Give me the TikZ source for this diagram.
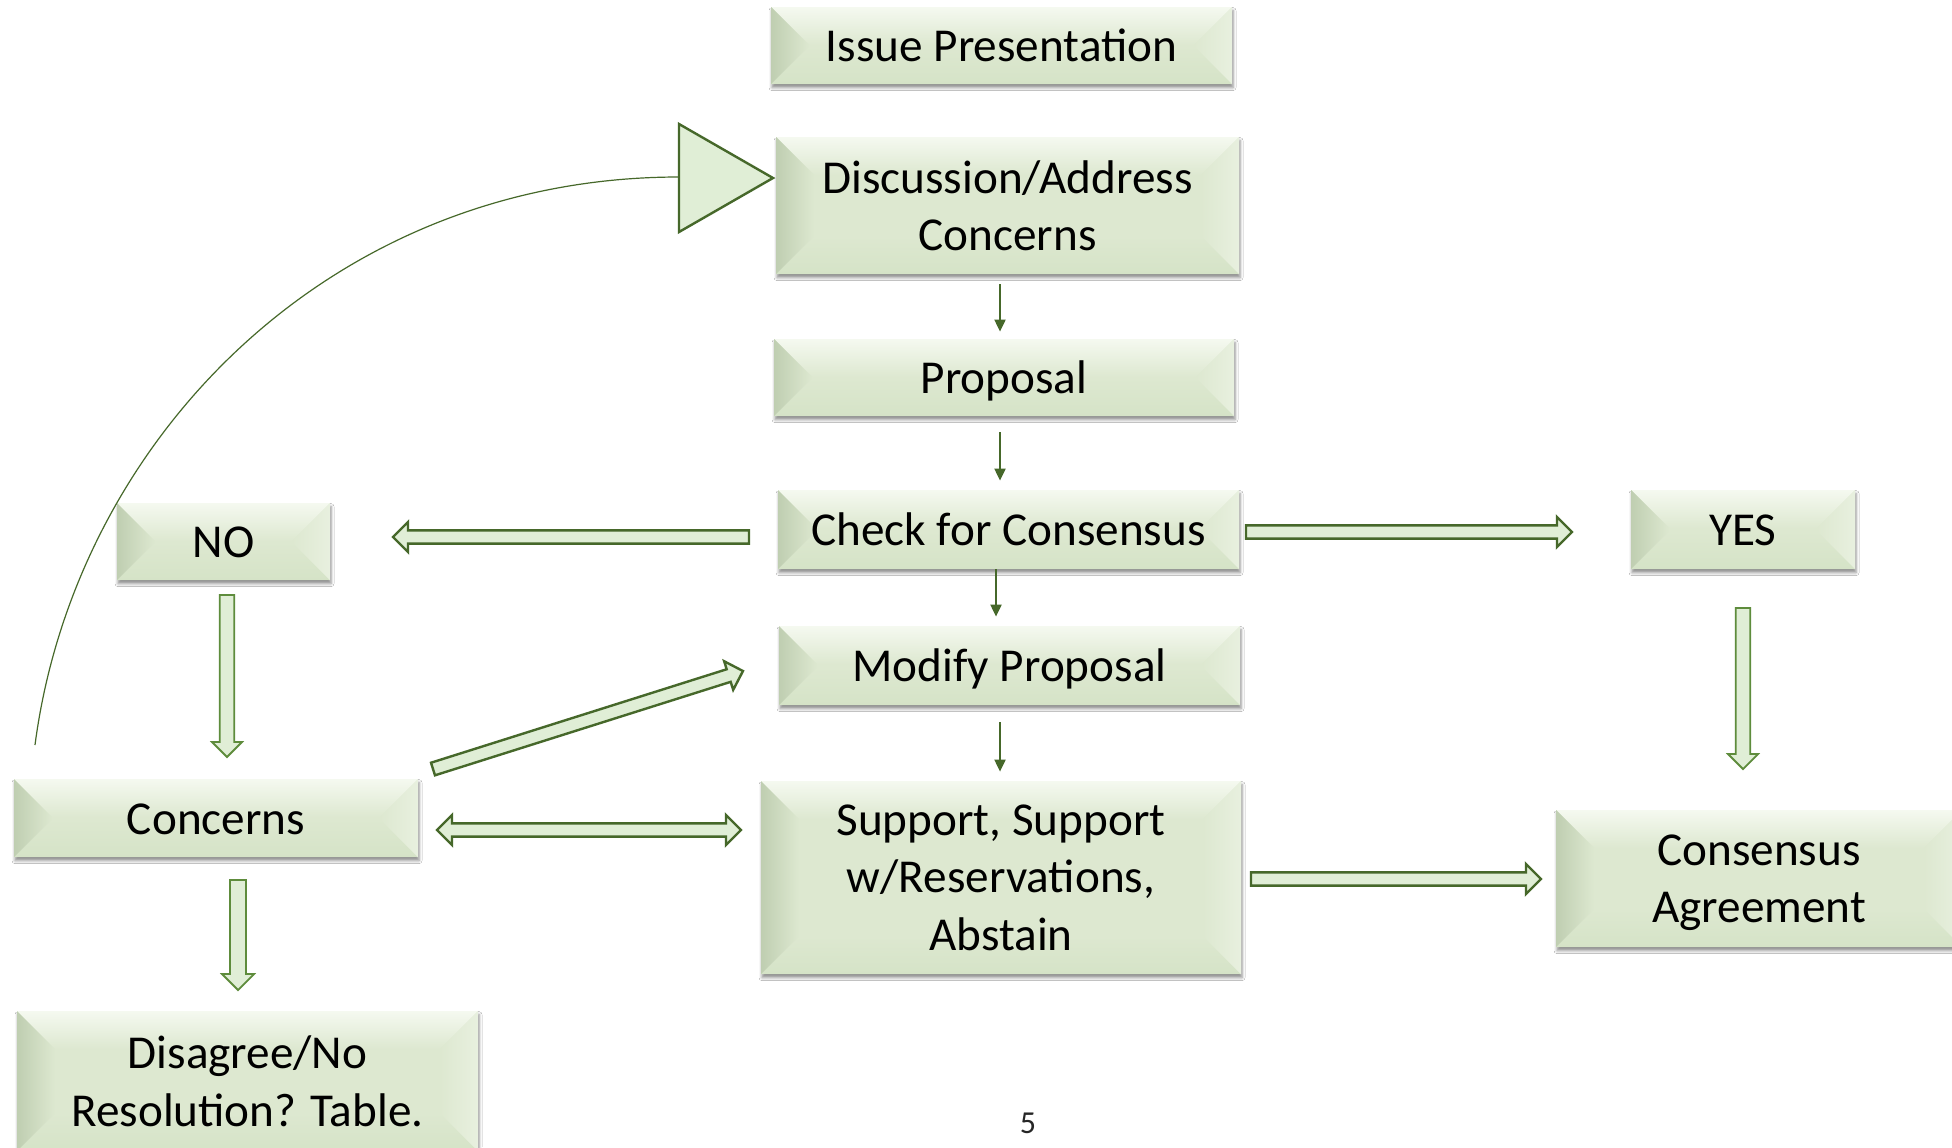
\documentclass[tikz,border=0pt]{standalone}
\usepackage{fontspec}
\setmainfont{Carlito}
\usetikzlibrary{calc,arrows.meta,shadows.blur}
\definecolor{face}{HTML}{DDE8D0}
\definecolor{bvleft}{HTML}{BFCEB1}
\definecolor{bvtop}{HTML}{F5F9F0}
\definecolor{bvright}{HTML}{E8F0DF}
\definecolor{bvbot}{HTML}{D5E3C7}
\definecolor{dkgreen}{HTML}{46682A}
\definecolor{mdgreen}{HTML}{5E8C3C}
\definecolor{arrfill}{HTML}{E0EED6}
\newcommand\bv{19pt}
\newcommand\barrow[6]{%
  \draw[#1] let \p1=(#2), \p2=(#3), \n1={atan2(\y2-\y1,\x2-\x1)}, \n2={veclen(\x2-\x1,\y2-\y1)} in
  [shift={(\p1)}, rotate=\n1]
  (0pt,-#4) -- ({\n2-#6},-#4) -- ({\n2-#6},-#5) -- ({\n2+0pt},0pt) -- ({\n2-#6},#5) -- ({\n2-#6},#4) -- (0pt,#4) -- cycle;}
\newcommand\dbarrow[6]{%
  \draw[#1] let \p1=(#2), \p2=(#3), \n1={atan2(\y2-\y1,\x2-\x1)}, \n2={veclen(\x2-\x1,\y2-\y1)} in
  [shift={(\p1)}, rotate=\n1]
  (0pt,0pt) -- (#6,#5) -- (#6,#4) -- ({\n2-#6},#4) -- ({\n2-#6},#5) -- ({\n2+0pt},0pt) -- ({\n2-#6},-#5) -- ({\n2-#6},-#4) -- (#6,-#4) -- (#6,-#5) -- cycle;}
\tikzset{
  bevelbox/.style={fill=face, inner sep=0pt, text depth=0pt,
    font=\fontsize{23.6pt}{28.6pt}\selectfont,
    blur shadow={shadow xshift=0.5pt, shadow yshift=-1.8pt, shadow blur radius=1.5pt, shadow opacity=45},
    path picture={
      \coordinate (q1) at (path picture bounding box.north west);
      \coordinate (q2) at (path picture bounding box.north east);
      \coordinate (q3) at (path picture bounding box.south east);
      \coordinate (q4) at (path picture bounding box.south west);
      \shade[top color=bvtop, bottom color=face] (q1) -- (q2) -- ([shift={(-\bv,-\bv)}]q2) -- ([shift={(\bv,-\bv)}]q1) -- cycle;
      \shade[bottom color=bvbot, top color=face] (q4) -- (q3) -- ([shift={(-\bv,\bv)}]q3) -- ([shift={(\bv,\bv)}]q4) -- cycle;
      \shade[left color=bvleft, right color=face] (q1) -- (q4) -- ([shift={(\bv,\bv)}]q4) -- ([shift={(\bv,-\bv)}]q1) -- cycle;
      \shade[right color=bvright, left color=face] (q2) -- (q3) -- ([shift={(-\bv,\bv)}]q3) -- ([shift={(-\bv,-\bv)}]q2) -- cycle;
    }},
  oneline/.style={text height=16.3pt},
  multiline/.style={align=center},
  thinarr/.style={draw=dkgreen, line width=1pt, -{Triangle[length=6pt,width=5.5pt]}},
  blockarr/.style={draw=dkgreen, fill=arrfill, line width=1.2pt, line join=miter},
  vblockarr/.style={draw=mdgreen, fill=arrfill, line width=0.9pt, line join=miter},
  loopline/.style={draw=dkgreen, line width=0.6pt},
  bigtri/.style={draw=dkgreen, fill=arrfill, line width=1.2pt, line join=miter},
}
\begin{document}
\begin{tikzpicture}[x=0.5pt,y=-0.5pt]
\clip (0,0) rectangle (1952,1147);
\fill[white] (0,0) rectangle (1952,1147);

\node[bevelbox, oneline, minimum width=230.5pt, minimum height=38.5pt] (issue) at (1001.5,45.5) {Issue Presentation};
\node[bevelbox, multiline, minimum width=231.5pt, minimum height=68.5pt] (disc) at (1007.5,205.5) {Discussion/Address\\Concerns};
\node[bevelbox, oneline, minimum width=230pt, minimum height=38.5pt] (prop) at (1004,377.5) {Proposal};
\node[bevelbox, oneline, minimum width=230.5pt, minimum height=39.5pt] (check) at (1008.5,529.5) {Check for Consensus};
\node[bevelbox, oneline, minimum width=230.5pt, minimum height=39.5pt] (modify) at (1009.5,665.5) {Modify Proposal};
\node[bevelbox, multiline, minimum width=240pt, minimum height=96.5pt] (support) at (1001,877.5) {Support, Support\\w/Reservations,\\Abstain};
\node[bevelbox, oneline, minimum width=106.5pt, minimum height=38.5pt] (no) at (223.5,541.5) {NO};
\node[bevelbox, oneline, minimum width=112pt, minimum height=39.5pt] (yes) at (1743,529.5) {YES};
\node[bevelbox, oneline, minimum width=202pt, minimum height=39pt] (concerns) at (216,818) {Concerns};
\node[bevelbox, multiline, minimum width=230.5pt, minimum height=70pt] (disagree) at (247.5,1081) {Disagree/No\\Resolution? Table.};
\node[bevelbox, multiline, minimum width=203pt, minimum height=68.5pt] (agree) at (1759,878.5) {Consensus\\Agreement};
\node[font=\fontsize{16pt}{19pt}\selectfont, text=black!85] (page) at (1028,1123) {5};

% thin arrows
\coordinate (ax) at (1000,0);
\coordinate (bx) at (996,0);
\draw[thinarr, shorten <=5pt, shorten >=3.5pt] (disc.south -| ax) -- (prop.north -| ax);
\draw[thinarr, shorten <=8pt, shorten >=4.5pt] (prop.south -| ax) -- (check.north -| ax);
\draw[thinarr, shorten >=4.5pt] (check.south -| bx) -- (modify.north -| bx);
\draw[thinarr, shorten <=8.5pt, shorten >=4.5pt] (modify.south -| ax) -- (support.north -| ax);

% block arrows
\coordinate (n1) at (749,537);  \coordinate (n2) at (393,537);
\coordinate (y1) at (1246,532); \coordinate (y2) at (1572,532);
\coordinate (nc1) at (227,595); \coordinate (nc2) at (227,757);
\coordinate (ya1) at (1743,608); \coordinate (ya2) at (1743,769);
\coordinate (cd1) at (238,880); \coordinate (cd2) at (238,990);
\coordinate (cm1) at (433,769); \coordinate (cm2) at (743,671);
\coordinate (cs1) at (437,830); \coordinate (cs2) at (741,830);
\coordinate (sa1) at (1251,879); \coordinate (sa2) at (1541,879);
\barrow{blockarr}{n1}{n2}{3.3pt}{7.5pt}{7.5pt}
\barrow{blockarr}{y1}{y2}{3.3pt}{7.5pt}{7.5pt}
\barrow{vblockarr}{nc1}{nc2}{3.6pt}{7.5pt}{7.5pt}
\barrow{vblockarr}{ya1}{ya2}{3.6pt}{7.5pt}{7.5pt}
\barrow{vblockarr}{cd1}{cd2}{4pt}{8pt}{8pt}
\barrow{blockarr}{cm1}{cm2}{3.3pt}{7.5pt}{7.5pt}
\dbarrow{blockarr}{cs1}{cs2}{3.3pt}{7.5pt}{7.5pt}
\barrow{blockarr}{sa1}{sa2}{3.3pt}{7.5pt}{7.5pt}

% loop back
\coordinate (c0) at (35,745);
\coordinate (tb) at (679,177);
\coordinate (tbt) at (679,124);
\coordinate (tbb) at (679,232);
\coordinate (tip) at (773,178);
\draw[loopline] (c0) .. controls (75,440) and (330,177) .. (tb);
\draw[bigtri] (tbt) -- (tip) -- (tbb) -- cycle;
\end{tikzpicture}
\end{document}
